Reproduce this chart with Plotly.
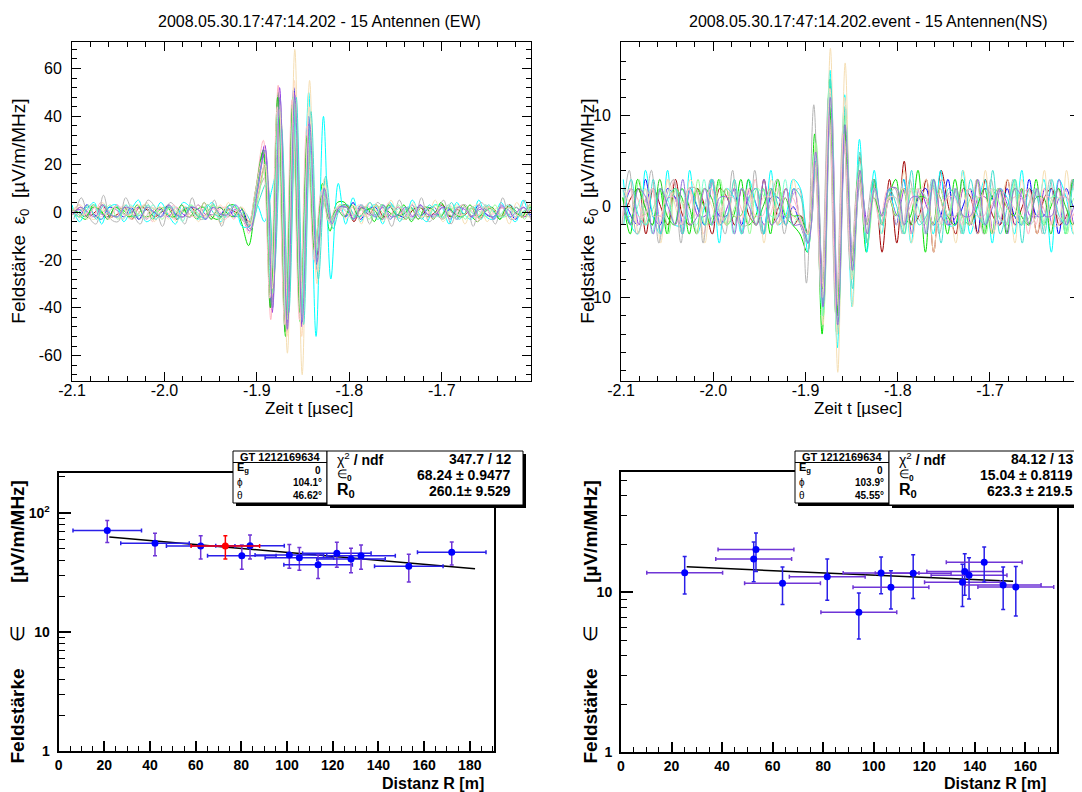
import plotly.graph_objects as go

W, H = 1082, 792
OFF = 8  # the page body adds an 8 px margin around the figure
FONT = "Liberation Sans, Arial, Helvetica, sans-serif"

# ------------------------------------------------------------------
# Waveforms (field strength, µV/m/MHz), one value every 8 ns from -2.1 µs
# ------------------------------------------------------------------
wave_t0_us = -2.1
wave_step_us = 0.008

ew_a01 = [1,-2,3,-1,-3,2,1,-2, 2,-3,1,0,-2,3,-1,-2, 2,1,-3,2,-1,2,-2,1,
          -6,9,24,-38,46,-50,52,-47,40,-22,10,-5,2,
          -2,4,-3,1,2,-3,2,-1,-2, 3,-2,1,2,-3,1,-1,2,-2, 3,-1,-2,2,1,-3,2,-1,1]
ew_a02 = [-1,2,-2,0,3,-2,-1,2, -3,2,1,-2,0,2,-3,1, 2,-2,-1,3,-2,1,0,-2,
          -4,7,20,-33,40,-44,43,-42,33,-18,8,-3,2,
          3,-4,2,-1,3,-2,-1,2,-3, 1,2,-2,0,3,-2,1,-1,2, -3,2,1,-2,3,-1,-2,1,0]
ew_a03 = [2,-1,-3,3,0,-2,2,1, -2,-1,3,-3,1,2,-2,0, 1,-3,4,-2,-3,2,3,-4,
          -14,6,26,-40,50,-52,48,-46,36,-20,12,-8,4,
          4,-3,1,2,-4,3,0,-2,3, -4,1,2,-3,4,-1,-2,3,-1, -4,2,1,-3,2,0,-2,3,-1]
ew_a04 = [0,1,-2,2,-1,-2,3,-1, 0,2,-3,1,1,-2,2,-1, -2,3,-1,-1,2,-2,1,-3,
          -8,8,28,-42,52,-50,50,-48,38,-24,9,-4,1,
          2,-3,3,-1,-1,2,-3,2,0, -2,3,-1,-2,2,1,-3,2,-2, 1,1,-3,2,-1,2,-2,0,1]
ew_a05 = [3,-4,1,4,-5,2,3,-4, 1,5,-4,-2,4,-1,-5,4, 2,-3,1,4,-4,-1,3,-6,
          -6,3,-4,9,20,-30,42,-45,50,-52,40,-28,12,
          -5,6,-4,1,3,-5,4,-2,-3, 5,-1,-4,3,2,-5,4,-1,-3, 5,-2,-3,4,-1,-4,5,-2,1]
ew_a06 = [-2,3,-1,-2,4,-3,1,2, -3,1,3,-4,2,0,-3,3, -1,-2,4,-3,1,2,-3,2,
          -9,10,30,-45,53,-48,46,-44,34,-18,8,-4,2,
          -1,2,-3,3,-1,-2,4,-3,1, 2,-3,2,-1,-2,3,-3,2,1, -4,3,0,-2,3,-2,-1,3,-2]
ew_a07 = [1,3,-2,-3,4,-1,-2,3, -3,0,4,-4,1,3,-4,2, 1,-4,3,2,-5,4,-1,-3,
          -5,6,18,-30,45,-59,68,-68,55,-30,14,-6,3,
          0,3,-5,4,1,-4,5,-2,-3, 4,-2,-1,5,-4,0,3,-5,2, 3,-4,1,2,-5,4,-1,-2,3]
ew_a08 = [-3,6,-2,-5,7,-3,-4,6, -1,-5,5,2,-6,4,1,-5, 6,-3,-2,5,-6,3,1,-4,
          -3,9,15,-28,38,-40,42,-38,30,-15,6,-3,1,
          2,-1,3,-5,4,1,-6,5,-2, -3,6,-4,-1,5,-5,2,3,-6, 4,1,-5,6,-3,-2,5,-4,1]
ew_a09 = [2,-2,1,3,-3,0,2,-3, 3,-1,-2,3,-2,1,2,-4, 3,0,-3,3,-1,-2,3,-2,
          -5,8,22,-35,44,-46,48,-44,36,-20,10,-5,2,
          1,-3,3,0,-2,3,-3,1,2, -3,2,1,-2,-1,3,-3,2,0, -2,3,-2,-1,3,-2,0,2,-2]
ew_a10 = [-1,-2,3,-2,0,3,-3,1, 2,-3,2,1,-3,2,0,-2, 3,-2,-1,3,-3,1,2,-2,
          -7,6,20,-34,42,-45,47,-43,35,-19,9,-4,3,
          2,-2,1,-3,3,-1,-1,3,-3, 2,0,-2,3,-3,1,2,-3,2, 0,-2,3,-2,-1,2,-3,3,-1]
ew_a11 = [1,0,-2,2,1,-3,2,0, -2,3,-2,-1,2,-1,-2,3, -2,1,2,-3,2,0,-2,2,
          -6,9,25,-40,48,-50,46,-42,32,-16,7,-3,1,
          -2,3,-2,1,1,-3,3,-1,-1, 2,-3,2,1,-2,2,-1,-2,3, -2,0,2,-3,2,1,-2,2,-1]
ew_a12 = [-2,1,2,-3,3,-1,-2,3, -2,-1,3,-3,1,2,-3,2, 0,-2,3,-1,-2,3,-2,0,
          -4,5,12,-25,35,-42,48,-47,42,-28,15,-7,2,
          3,-2,-1,4,-3,0,3,-4,2, 1,-3,3,-1,-2,4,-3,0,2, -3,3,-1,-2,3,-2,1,1,-2]
ew_a13 = [0,2,-3,2,1,-3,3,-1, -1,3,-3,1,2,-3,2,0, -2,3,-2,-1,3,-2,0,2,
          -5,7,20,-32,43,-52,55,-52,44,-25,11,-5,2,
          -3,3,-1,-1,3,-3,2,0,-2, 3,-2,-1,2,-3,3,-1,-1,2, -3,2,1,-2,2,-1,-2,3,-1]
ew_a14 = [2,-1,-1,3,-2,0,2,-3, 2,1,-3,2,0,-2,3,-2, -1,2,-2,1,1,-3,2,-1,
          -6,8,22,-36,44,-47,47,-45,36,-20,9,-4,2,
          1,-2,3,-2,0,2,-3,2,1, -2,1,2,-3,2,0,-2,3,-1, -2,2,-1,1,2,-3,2,0,-1]
ew_a15 = [-1,2,0,-2,3,-1,-2,2, 1,-3,2,0,-2,3,-1,-2, 2,1,-3,2,-1,-1,3,-2,
          -7,10,26,-40,48,-49,49,-46,37,-21,10,-5,2,
          2,-3,2,0,-2,3,-2,-1,2, -2,3,-1,-1,2,-3,2,1,-2, 2,-1,-2,3,-2,0,2,-2,1]
ew_shift_ns = [0, 1, -1, 0.5, 0, -1, 1, 2, -0.5, 1.5, -1.5, 2.5, 0.5, -2, 1]

ns_a01 = [2,-1,-2,3,-1,-2,2,1, -3,2,0,-2,3,-1,-1,2, -2,1,2,-3,1,1,-2,0,
          -2,-4,6,-10,12,-13,9,-6,4,-3,2,-1,2,
          -2,3,-3,1,2,-2,-1,3,-2, 0,2,-3,2,1,-2,2,-1,-2, 3,-1,-1,2,-3,2,0,-1,2]
ns_a02 = [-1,1,2,-3,2,0,-2,3, -1,-2,2,0,-3,2,1,-2, 2,-1,-2,3,-2,0,2,-2,
          -1,-3,5,-9,11,-12,8,-7,5.5,-4,3,-5,3,
          -4,5,-2,-1,3,-5,4,0,-3, 2,1,-3,3,-1,-2,3,-2,0, 2,-3,1,2,-2,-1,3,-3,1]
ns_a03 = [1,-3,3,0,-2,2,-3,2, 1,-3,2,0,-2,3,-2,-1, 3,-2,-1,2,-3,3,-1,-2,
          -3,-5,8,-14,14,-14,10,-8,4,-5,3,-2,1,
          3,-2,-1,4,-5,2,1,-3,3, -1,-2,3,-3,1,2,-3,2,-1, -2,3,-2,0,2,-3,3,-1,-1]
ns_a04 = [0,2,-2,1,2,-3,1,1, -2,2,-1,-1,3,-2,0,2, -3,2,0,-2,2,-1,-1,2,
          -2,-3,6,-11,13,-12,9,-6,3,-2,2,-2,1,
          -1,2,-3,2,0,-2,3,-2,-1, 2,-2,1,1,-3,2,0,-2,2, -1,-1,2,-2,1,1,-2,2,-1]
ns_a05 = [3,-2,-3,4,-1,-3,4,-2, -2,4,-3,0,3,-4,2,1, -3,3,0,-3,4,-2,-1,3,
          2,-5,4,-12,15,-15.5,12.3,-11,7.4,-5,4,-3,2,
          -1,3,-4,2,1,-3,4,-2,-2, 4,-3,0,3,-4,2,1,-3,4, -2,-1,3,-5,3,1,-3,4,-2]
ns_a06 = [-2,2,1,-2,2,-1,-1,3, -2,0,2,-3,2,0,-2,2, 0,-2,3,-2,-1,2,-2,1,
          -1,-3,5,-10,11,-11,8,-7,4,-3,1,-1,2,
          2,-2,0,2,-3,2,1,-2,2, -1,-2,3,-2,0,2,-2,1,1, -3,2,0,-2,2,-1,-1,2,-1]
ns_a07 = [1,2,-3,1,2,-4,3,0, -3,3,1,-4,3,0,-2,3, -3,1,2,-4,3,-1,-2,3,
          -2,-4,7,-13,17.4,-18.2,15.8,-11,6,-4,2,-3,1,
          -2,4,-4,1,3,-5,3,1,-4, 4,-1,-3,4,-3,0,3,-4,2, 1,-3,4,-2,-2,4,-3,1,2]
ns_a08 = [-2,4,-3,-1,4,-4,1,3, -4,2,2,-4,3,0,-3,4, -2,-2,4,-3,0,3,-3,1,
          2,-8.4,11.2,-10,12,-12,9,-7,3,-2,3,-2,1,
          2,-3,3,-1,-2,3,-3,1,2, -3,2,1,-3,3,-1,-2,3,-2, 0,2,-3,3,-1,-2,3,-2,0]
ns_a09 = [2,-2,0,2,-3,2,1,-2, 2,-1,-2,3,-2,0,2,-3, 2,1,-2,2,-1,-1,3,-2,
          -1,-4,6,-11,13,-14,11,-8,5,-3,2,-1,1,
          1,-2,2,0,-3,3,-1,-1,2, -3,2,1,-2,2,-1,-2,3,-2, 0,2,-2,1,1,-3,2,0,-1]
ns_a10 = [-1,-1,3,-2,0,2,-3,2, 0,-2,3,-2,-1,3,-2,0, 2,-3,2,1,-2,2,-1,-1,
          -2,-3,7,-12,12,-13,10,-7,4,-4,2,-2,2,
          2,-3,2,1,-2,3,-2,-1,2, -2,1,1,-3,2,0,-2,3,-2, -1,2,-2,1,2,-3,1,1,-2]
ns_a11 = [1,-2,2,0,-2,3,-1,-2, 2,0,-3,2,1,-2,2,-1, -1,3,-2,0,2,-2,1,-1,
          -1,-3,5,-9,11,-12,9,-6,4,-2,1,-1,1,
          -1,2,-2,1,1,-2,2,-1,-2, 3,-2,0,2,-3,2,0,-1,2, -2,1,1,-3,2,0,-2,2,0]
ns_a12 = [-2,3,-1,-2,3,-3,1,2, -3,2,0,-2,3,-2,-1,3, -3,1,2,-3,2,0,-2,2,
          1,-4,5,-11,14,-14,11,-9,6,-4,3,-2,2,
          0,-3,4,-2,-1,3,-4,2,1, -3,3,-1,-2,4,-3,0,3,-4, 2,1,-3,3,-1,-2,3,-2,0]
ns_a13 = [2,0,-2,2,-1,-1,3,-2, 0,2,-3,2,0,-2,2,-1, -1,2,-2,1,1,-2,2,-1,
          -2,-3,6,-10,13,-14,12,-8,4,-3,2,-1,1,
          -1,2,-3,2,1,-2,2,-1,-1, 2,-2,1,1,-3,2,0,-2,3, -2,-1,2,-2,1,1,-2,2,-1]
ns_a14 = [-1,2,-1,-1,2,-2,1,1, -2,2,-1,0,2,-2,1,1, -2,2,-1,-1,2,-2,1,0,
          -1,-3,5,-9,10,-11,8,-6,3,-2,1,-2,1,
          1,-2,2,-1,0,2,-2,1,1, -2,2,-1,-1,2,-2,1,0,-1, 2,-2,1,1,-2,2,-1,0,1]
ns_a15 = [0,-2,2,1,-3,2,0,-2, 3,-2,-1,2,-2,1,1,-3, 2,0,-2,3,-2,-1,2,-2,
          -2,-4,6,-11,12,-13,9,-7,4,-3,2,-1,2,
          2,-2,1,1,-3,3,-1,-2,2, -1,-1,3,-2,0,2,-3,2,1, -2,2,-1,-1,3,-2,0,2,-1]
ns_shift_ns = [2.5, 3, 2, 3.5, 2.5, 1.5, 3, 1, 2, 3.5, 2, 3, 2.5, 1.5, 3]

time_ticks = [-2.1, -2.0, -1.9, -1.8, -1.7]
time_tick_labels = ["-2.1", "-2.0", "-1.9", "-1.8", "-1.7"]
ew_field_ticks = [-60, -40, -20, 0, 20, 40, 60]
ew_field_labels = ["-60", "-40", "-20", "0", "20", "40", "60"]
ns_field_ticks = [-10, 0, 10]
ns_field_labels = ["-10", "0", "10"]

# ------------------------------------------------------------------
# Lateral distribution: field strength vs distance
# ------------------------------------------------------------------
ew_R = [21.3, 42.2, 62.2, 80.2, 83.8, 101.0, 105.4, 113.6, 121.8, 128.0, 132.4, 153.3, 172.1]
ew_R_err = [15.0, 15.0, 15.0, 15.0, 15.0, 15.0, 15.0, 15.0, 15.0, 15.0, 15.0, 15.0, 15.0]
ew_E = [71.1, 55.4, 52.6, 43.6, 52.9, 44.2, 42.0, 36.6, 45.7, 40.9, 43.6, 35.6, 46.6]
ew_E_err = [14.9, 11.9, 11.6, 10.0, 12.0, 10.0, 9.1, 8.5, 10.8, 9.5, 10.0, 9.3, 10.2]
ew_ref_R = [73.0]
ew_ref_R_err = [15.0]
ew_ref_E = [52.6]
ew_ref_E_err = [11.6]
ew_fit_R = [22.2, 182.3]
ew_fit_E = [62.7, 33.9]

ns_R = [25.2, 52.5, 53.4, 63.9, 81.6, 94.1, 102.9, 106.8, 115.6, 135.1, 136.0, 137.7, 143.7, 151.2, 156.2]
ns_R_err = [15.0, 15.0, 15.0, 15.0, 15.0, 15.0, 15.0, 15.0, 15.0, 15.0, 15.0, 15.0, 15.0, 15.0, 15.0]
ns_E = [13.26, 16.15, 18.5, 11.38, 12.52, 7.5, 13.2, 10.75, 13.15, 11.55, 13.5, 12.77, 15.4, 11.1, 10.8]
ns_E_err = [3.5, 4.5, 5.0, 3.0, 3.6, 2.4, 3.4, 2.9, 4.0, 3.4, 3.9, 3.7, 3.8, 3.3, 3.7]
ns_fit_R = [26.0, 155.1]
ns_fit_E = [14.43, 11.73]

dist_ticks_ew = [0, 20, 40, 60, 80, 100, 120, 140, 160, 180]
dist_ticks_ns = [0, 20, 40, 60, 80, 100, 120, 140, 160]
eps_ticks_ew = [1, 10, 100]
eps_labels_ew = ["1", "10", "10<sup>2</sup>"]
eps_ticks_ns = [1, 10]
eps_labels_ns = ["1", "10"]
eps_minor = [2, 3, 4, 5, 6, 7, 8, 9, 20, 30, 40, 50, 60, 70, 80, 90, 200]

# fit / event statistics
event_id = "GT 1212169634"
ew_stats = {"Eg": "0", "phi": "104.1°", "theta": "46.62°",
            "chi2": "347.7 / 12", "eps0": "68.24 ± 0.9477", "R0": "260.1± 9.529"}
ns_stats = {"Eg": "0", "phi": "103.9°", "theta": "45.55°",
            "chi2": "84.12 / 13", "eps0": "15.04 ± 0.8119", "R0": "623.3 ± 219.5"}

title_ew = "2008.05.30.17:47:14.202 - 15 Antennen (EW)"
title_ns = "2008.05.30.17:47:14.202.event - 15 Antennen(NS)"

# ------------------------------------------------------------------
wave_colors = ["#0000ff", "#a00000", "#00e000", "#8a2be2", "#00ffff",
               "#ffb6c1", "#f5deb3", "#b4b4b4", "#7fffd4", "#98fb98",
               "#22cc22", "#40e0d0", "#ffdab9", "#ffc0cb", "#9370db"]

ew_traces = [ew_a01, ew_a02, ew_a03, ew_a04, ew_a05, ew_a06, ew_a07, ew_a08,
             ew_a09, ew_a10, ew_a11, ew_a12, ew_a13, ew_a14, ew_a15]
ns_traces = [ns_a01, ns_a02, ns_a03, ns_a04, ns_a05, ns_a06, ns_a07, ns_a08,
             ns_a09, ns_a10, ns_a11, ns_a12, ns_a13, ns_a14, ns_a15]


def px(x):
    return (x - OFF) / W


def py(y):
    return 1 - (y - OFF) / H


fig = go.Figure()

for traces, shifts, xa, ya in [(ew_traces, ew_shift_ns, "x", "y"),
                               (ns_traces, ns_shift_ns, "x2", "y2")]:
    for vals, col, sh in zip(traces, wave_colors, shifts):
        t = [wave_t0_us + wave_step_us * k + sh * 1e-3 for k in range(len(vals))]
        fig.add_trace(go.Scatter(x=t, y=vals, mode="lines",
                                 line=dict(color=col, width=1, shape="spline", smoothing=1.0),
                                 xaxis=xa, yaxis=ya, showlegend=False, hoverinfo="skip"))

PURPLE = "#6f35d6"
BLUE = "#0000ff"

# EW lateral distribution
fig.add_trace(go.Scatter(x=ew_fit_R, y=ew_fit_E, mode="lines", line=dict(color="black", width=1.5),
                         xaxis="x3", yaxis="y3", showlegend=False))
fig.add_trace(go.Scatter(x=ew_R, y=ew_E, mode="markers",
                         marker=dict(color=BLUE, size=7),
                         error_x=dict(type="data", array=ew_R_err, color="#2a1fe8", thickness=1.5, width=2),
                         error_y=dict(type="data", array=ew_E_err, color=PURPLE, thickness=1.5, width=2),
                         xaxis="x3", yaxis="y3", showlegend=False))
fig.add_trace(go.Scatter(x=ew_ref_R, y=ew_ref_E, mode="markers",
                         marker=dict(color="#ff0000", size=7),
                         error_x=dict(type="data", array=ew_ref_R_err, color="#ff0000", thickness=1.5, width=2),
                         error_y=dict(type="data", array=ew_ref_E_err, color="#ff0000", thickness=1.5, width=2),
                         xaxis="x3", yaxis="y3", showlegend=False))

# NS lateral distribution
fig.add_trace(go.Scatter(x=ns_fit_R, y=ns_fit_E, mode="lines", line=dict(color="black", width=1.5),
                         xaxis="x4", yaxis="y4", showlegend=False))
fig.add_trace(go.Scatter(x=ns_R, y=ns_E, mode="markers",
                         marker=dict(color=BLUE, size=7),
                         error_x=dict(type="data", array=ns_R_err, color=PURPLE, thickness=1.5, width=2),
                         error_y=dict(type="data", array=ns_E_err, color="#2a1fe8", thickness=1.5, width=2),
                         xaxis="x4", yaxis="y4", showlegend=False))

# ------------------------------------------------------------------
# Axes
TOP_Y = [py(381.4), py(42)]


def top_x(domain, anchor):
    return dict(domain=domain, anchor=anchor, range=[-2.1, -1.6035], automargin=False,
                tickmode="array", tickvals=time_ticks, ticktext=time_tick_labels,
                ticks="inside", ticklen=9, tickwidth=1, tickcolor="black",
                showline=True, linecolor="black", linewidth=1, mirror="ticks",
                showgrid=False, zeroline=False, ticklabelstandoff=-6,
                minor=dict(ticks="inside", ticklen=5, dtick=0.02, tick0=-2.1, tickcolor="black", showgrid=False),
                tickfont=dict(family=FONT, size=16, color="black"))


def top_y(anchor, rng, tv, tt, minor_dt):
    return dict(domain=TOP_Y, anchor=anchor, range=rng, automargin=False,
                tickmode="array", tickvals=tv, ticktext=tt,
                ticks="inside", ticklen=9, tickwidth=1, tickcolor="black",
                showline=True, linecolor="black", linewidth=1, mirror="ticks",
                showgrid=False, zeroline=False, ticklabelstandoff=6,
                minor=dict(ticks="inside", ticklen=5, dtick=minor_dt, tick0=0, tickcolor="black", showgrid=False),
                tickfont=dict(family=FONT, size=16, color="black"))


def bot_x(domain, anchor, rng, tv):
    return dict(domain=domain, anchor=anchor, range=rng, automargin=False,
                tickmode="array", tickvals=tv, ticktext=[str(v) for v in tv],
                ticks="inside", ticklen=10, tickwidth=1.5, tickcolor="black",
                showline=True, linecolor="black", linewidth=2, mirror=True,
                showgrid=False, zeroline=False,
                minor=dict(ticks="inside", ticklen=5, dtick=5, tick0=0, tickcolor="black", tickwidth=1.2, showgrid=False),
                tickfont=dict(family=FONT, size=14, color="black", weight="bold"))


def bot_y(domain, anchor, rng, tv, tt):
    return dict(domain=domain, anchor=anchor, type="log", range=rng, automargin=False,
                tickmode="array", tickvals=tv, ticktext=tt,
                ticks="inside", ticklen=12, tickwidth=1.5, tickcolor="black",
                showline=True, linecolor="black", linewidth=2, mirror=True,
                showgrid=False, zeroline=False, ticklabelstandoff=4,
                minor=dict(ticks="inside", ticklen=6, tickmode="array", tickvals=eps_minor,
                           tickcolor="black", tickwidth=1.2, showgrid=False),
                tickfont=dict(family=FONT, size=14, color="black", weight="bold"))


fig.update_layout(
    width=W, height=H, autosize=False,
    margin=dict(l=0, r=0, t=0, b=0, autoexpand=False),
    paper_bgcolor="white", plot_bgcolor="white",
    showlegend=False,
    font=dict(family=FONT, color="black"),
    xaxis=top_x([px(72), px(531)], "y"),
    yaxis=top_y("x", [-70.8, 71.1], ew_field_ticks, ew_field_labels, 4),
    xaxis2=top_x([px(621), px(1079)], "y2"),
    yaxis2=top_y("x2", [-19.2, 18.1], ns_field_ticks, ns_field_labels, 2),
    xaxis3=bot_x([px(58.6), px(494)], "y3", [0, 190.6], dist_ticks_ew),
    yaxis3=bot_y([py(751.3), py(473)], "x3", [0, 2.333], eps_ticks_ew, eps_labels_ew),
    xaxis4=bot_x([px(621), px(1056.5)], "y4", [0, 172.3], dist_ticks_ns),
    yaxis4=bot_y([py(752.3), py(472.3)], "x4", [0, 1.75], eps_ticks_ns, eps_labels_ns),
)


def text(x, y, s, size, xanchor="center", yanchor="middle", bold=False, angle=0):
    fig.add_annotation(x=px(x), y=py(y), xref="paper", yref="paper", text=s, showarrow=False,
                       font=dict(family=FONT, size=size, color="black", weight="bold" if bold else "normal"),
                       xanchor=xanchor, yanchor=yanchor, textangle=angle, borderpad=0)


# titles
text(319, 22, title_ew, 16)
text(868, 22, title_ns, 16)
# top axis titles
text(309, 409, "Zeit t [µsec]", 17)
text(857.5, 409, "Zeit t [µsec]", 17)
ylab_t = "Feldstärke  ε<sub>0</sub>  [µV/m/MHz]"
text(20, 211.7, ylab_t, 19, angle=-90)
text(589, 211.7, ylab_t, 19, angle=-90)
# bottom axis titles
ylab_b = "<b>Feldstärke</b>" + " " * 5 + "∈" + " " * 8 + "<b>[µV/m/MHz]</b>"
text(17, 480, ylab_b, 19, yanchor="top", angle=-90)
text(590, 480, ylab_b, 19, yanchor="top", angle=-90)
text(484.5, 783, "Distanz R [m]", 16, xanchor="right", bold=True)
text(1047, 783, "Distanz R [m]", 16, xanchor="right", bold=True)


def rect(x0, y0, x1, y1, fill, lw):
    fig.add_shape(type="rect", xref="paper", yref="paper",
                  x0=px(x0), x1=px(x1), y0=py(y1), y1=py(y0),
                  fillcolor=fill, line=dict(color="black", width=lw), layer="above")


def stats_box(dx, st):
    # small event box
    rect(233 + dx + 3, 451 + 3, 327 + dx + 3, 503 + 3, "black", 0)
    rect(233 + dx, 451, 327 + dx, 503, "white", 1)
    # fit box
    rect(327 + dx + 3, 451 + 3, 523 + dx + 3, 505 + 3, "black", 0)
    rect(327 + dx, 451, 523 + dx, 505, "white", 1)
    fig.add_shape(type="line", xref="paper", yref="paper",
                  x0=px(233 + dx), x1=px(327 + dx), y0=py(462.5), y1=py(462.5),
                  line=dict(color="black", width=1), layer="above")
    text(280 + dx, 457, event_id, 11, bold=True)
    text(236 + dx, 468, "E<sub>g</sub>", 11, xanchor="left", bold=True)
    text(322 + dx, 470, st["Eg"], 10, xanchor="right", bold=True)
    text(236 + dx, 482, "ϕ", 10, xanchor="left")
    text(323 + dx, 482, st["phi"], 10, xanchor="right", bold=True)
    text(236 + dx, 495, "θ", 10, xanchor="left")
    text(323 + dx, 495, st["theta"], 10, xanchor="right", bold=True)
    text(336 + dx, 459, "χ<sup>2</sup><b> / ndf</b>", 14, xanchor="left")
    text(512 + dx, 459, st["chi2"], 14, xanchor="right", bold=True)
    text(336 + dx, 475, "∈<sub><b>0</b></sub>", 12, xanchor="left")
    text(512 + dx, 475, st["eps0"], 14, xanchor="right", bold=True)
    text(336 + dx, 490, "<b>R<sub>0</sub></b>", 16, xanchor="left")
    text(512 + dx, 491, st["R0"], 14, xanchor="right", bold=True)


stats_box(0, ew_stats)
stats_box(562, ns_stats)

fig.write_html("out.html")
